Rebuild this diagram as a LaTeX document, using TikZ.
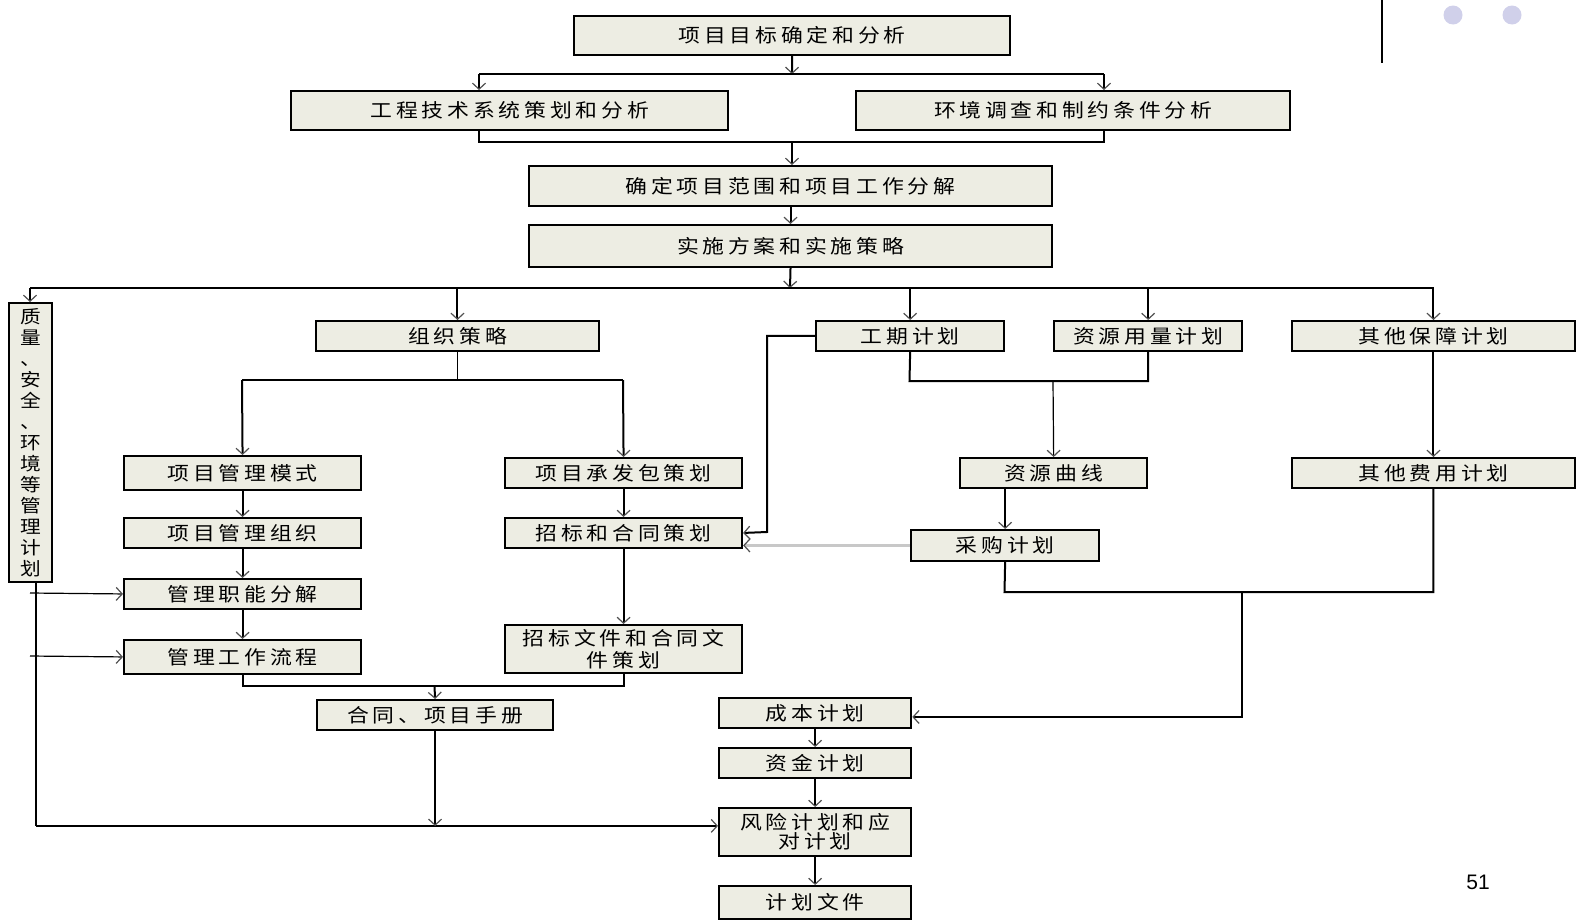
\documentclass[tikz,border=0pt]{standalone}
\usepackage{fontspec}
\setmainfont{Liberation Sans}
\newfontfamily\cjk[LetterSpace=20,FakeStretch=1.15]{Noto Sans CJK SC}
\newfontfamily\cjkv[FakeStretch=1.15]{Noto Sans CJK SC}
\usetikzlibrary{arrows.meta}
\definecolor{boxfill}{RGB}{237,237,227}
\definecolor{barbgray}{RGB}{80,80,80}
\definecolor{dotlav}{RGB}{208,208,234}
\definecolor{feedgray}{RGB}{200,200,200}
\tikzset{
  box/.style={draw=black, line width=2bp, fill=boxfill, anchor=north west,
    inner sep=0pt, align=center, font=\cjk\fontsize{19bp}{22bp}\selectfont},
  ln/.style={line width=2bp, black},
  thinln/.style={line width=1.2bp, black},
  barb/.style={-{Straight Barb[length=6bp,width=13bp,line width=1.2bp,color=barbgray]}},
  arr/.style={ln, barb},
  thinarr/.style={thinln, barb},
  grayarr/.style={line width=3bp, feedgray, barb},
}
\begin{document}
\begin{tikzpicture}[x=1bp,y=-1bp]
\useasboundingbox (0,0) rectangle (1581,922);

% decorations in the upper right corner
\draw[line width=2bp] (1382,0) -- (1382,63);
\fill[dotlav] (1453,15) circle (9.5);
\fill[dotlav] (1512,15) circle (9.5);

% boxes
\node[box, minimum width=438, minimum height=39] (t1) at (573,15) {项目目标确定和分析};
\node[box, minimum width=439, minimum height=39] (t2) at (290,90) {工程技术系统策划和分析};
\node[box, minimum width=436, minimum height=39] (t3) at (855,90) {环境调查和制约条件分析};
\node[box, minimum width=525, minimum height=40] (t4) at (528,165) {确定项目范围和项目工作分解};
\node[box, minimum width=525, minimum height=42] (t5) at (528,224) {实施方案和实施策略};

\node[box, minimum width=43, minimum height=280, font=\cjkv\fontsize{18bp}{21bp}\selectfont] (qv) at (8,302)
  {质\\量\\、\\安\\全\\、\\环\\境\\等\\管\\理\\计\\划};

\node[box, minimum width=284, minimum height=30] (zz) at (315,320) {组织策略};
\node[box, minimum width=189, minimum height=30] (gq) at (815,320) {工期计划};
\node[box, minimum width=189, minimum height=30] (zy) at (1053,320) {资源用量计划};
\node[box, minimum width=284, minimum height=30] (qb) at (1291,320) {其他保障计划};

\node[box, minimum width=238, minimum height=34] (ms) at (123,455) {项目管理模式};
\node[box, minimum width=238, minimum height=30] (cf) at (504,457) {项目承发包策划};
\node[box, minimum width=188, minimum height=30] (qx) at (959,457) {资源曲线};
\node[box, minimum width=284, minimum height=30] (fy) at (1291,457) {其他费用计划};

\node[box, minimum width=238, minimum height=30] (zzh) at (123,517) {项目管理组织};
\node[box, minimum width=238, minimum height=30] (zb) at (504,517) {招标和合同策划};
\node[box, minimum width=189, minimum height=31] (cg) at (910,529) {采购计划};

\node[box, minimum width=238, minimum height=30] (zn) at (123,578) {管理职能分解};
\node[box, minimum width=238, minimum height=34] (lc) at (123,639) {管理工作流程};
\node[box, minimum width=238, minimum height=48] (wj) at (504,624) {招标文件和合同文\\件策划};

\node[box, minimum width=237, minimum height=30] (sc) at (316,699) {合同、项目手册};
\node[box, minimum width=193, minimum height=30] (cb) at (718,697) {成本计划};
\node[box, minimum width=193, minimum height=30] (zj) at (718,747) {资金计划};
\node[box, minimum width=193, minimum height=48, font=\cjk\fontsize{19bp}{19bp}\selectfont] (fx) at (718,807) {风险计划和应\\对计划};
\node[box, minimum width=193, minimum height=33] (wd) at (718,885) {计划文件};

\node[font=\fontsize{21bp}{24bp}\selectfont] (pg) at (1478,882) {51};

% junction points
\coordinate (c1) at (792,74);
\coordinate (b1L) at (479,74);
\coordinate (b1R) at (1104,74);
\coordinate (b2L) at (479,142);
\coordinate (b2R) at (1104,142);
\coordinate (c2) at (792,142);
\coordinate (c3) at (790,288);
\coordinate (busL) at (30,288);
\coordinate (busR) at (1434,288);
\coordinate (ctL) at (242,380);
\coordinate (ctR) at (623,380);
\coordinate (k1) at (767,532);
\coordinate (r1) at (909.5,381);
\coordinate (r2) at (1053,381);
\coordinate (m0) at (1004.5,592);
\coordinate (m1) at (1242,592);
\coordinate (jl) at (434.5,686);
\coordinate (hL1) at (30,593);
\coordinate (hL2) at (30,656);
\coordinate (fxin) at ([yshift=6bp]fx.west);
\coordinate (qvo) at ([xshift=5.5bp]qv.south);

% upper part
\draw[arr] (t1.south) -- (c1);
\draw[ln] (b1L) -- (b1R);
\draw[arr] (b1L) -- (b1L |- t2.north);
\draw[arr] (b1R) -- (b1R |- t3.north);
\draw[ln] (b2L |- t2.south) -- (b2L) -- (b2R) -- (b2R |- t3.south);
\draw[arr] (c2) -- (c2 |- t4.north);
\draw[arr] (t4.south) -- (t5.north);
\draw[arr] (t5.south) -- (c3);

% distribution bus
\draw[ln] (busL) -- (busR);
\draw[arr] (busL) -- (busL |- qv.north);
\draw[arr] (zz.north |- busL) -- (zz.north);
\draw[arr] (gq.north |- busL) -- (gq.north);
\draw[arr] (zy.north |- busL) -- (zy.north);
\draw[arr] (qb.north |- busL) -- (qb.north);

% organisation branch
\draw[thinln] (zz.south) -- (zz.south |- ctL);
\draw[ln] (ctL) -- (ctR);
\draw[arr] (ctL) -- (ms.north);
\draw[arr] (ctR) -- (cf.north);
\draw[arr] (ms.south) -- (zzh.north);
\draw[arr] (zzh.south) -- (zn.north);
\draw[arr] (zn.south) -- (lc.north);
\draw[arr] (cf.south) -- (zb.north);
\draw[arr] (zb.south) -- (wj.north);
\draw[ln] (lc.south) -- (lc.south |- jl) -- (wj.south |- jl) -- (wj.south);
\draw[arr] (jl) -- (sc.north);

% schedule and resources
\draw[arr] (gq.west) -| (k1) -- (zb.east);
\draw[ln] (gq.south) -- (r1) -- (zy.south |- r1) -- (zy.south);
\draw[thinarr] (r2) -- (qx.north);
\draw[arr] (qx.south -| cg.north) -- (cg.north);
\draw[grayarr] (cg.west) -- (cg.west -| zb.east);
\draw[ln] (cg.south) -- (m0) -- (fy.south |- m0) -- (fy.south);
\draw[arr] (qb.south) -- (fy.north);
\draw[arr] (m1) |- ([yshift=-4bp]cb.east);

% cost chain
\draw[arr] (cb.south) -- (zj.north);
\draw[arr] (zj.south) -- (fx.north);
\draw[arr] (fx.south) -- (wd.north);

% quality / safety / environment links
\draw[thinarr] (hL1) -- (zn.west);
\draw[thinarr] (hL2) -- (lc.west);
\draw[thinln] (qvo) -- (qvo |- fxin);
\draw[arr] (qvo |- fxin) -- (fxin);
\draw[arr] (sc.south) -- (sc.south |- fxin);
\end{tikzpicture}
\end{document}
